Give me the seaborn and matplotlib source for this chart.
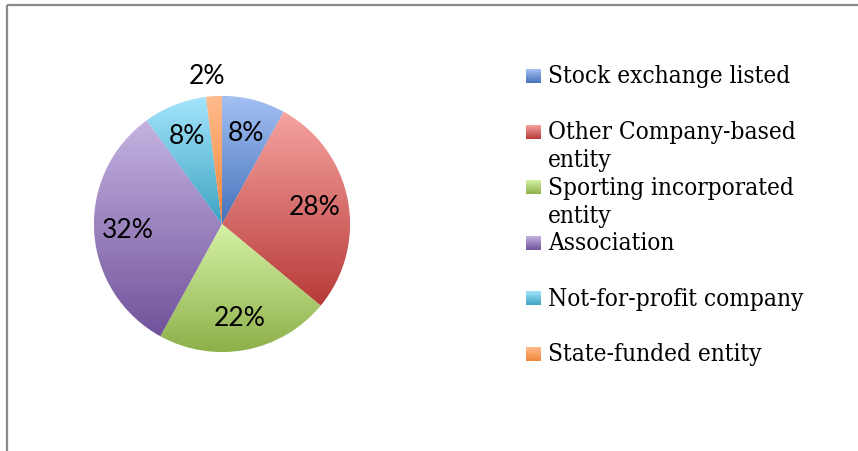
import numpy as np
import seaborn as sns
import matplotlib.pyplot as plt
from matplotlib.colors import LinearSegmentedColormap

sns.set_theme(style="white")

categories = ["Stock exchange listed", "Other Company-based\nentity",
              "Sporting incorporated\nentity", "Association",
              "Not-for-profit company", "State-funded entity"]
shares = [8, 28, 22, 32, 8, 2]

# light (top) / dark (bottom) colour of each slice gradient
light = ["#a3c0f3", "#f5a3a1", "#d6f2a6", "#c4b3e1", "#a3e4fb", "#ffbb8c"]
dark = ["#4672ba", "#b73a37", "#8eb04a", "#71529b", "#3fa4c3", "#f0863a"]

W, H = 858, 452
fig = plt.figure(figsize=(W / 100, H / 100), dpi=100)

# pie centred at (222, 225) px with radius 128 px
cx, cy, r = 222, 225, 128
ax = fig.add_axes([(cx - r) / W, (H - cy - r) / H, 2 * r / W, 2 * r / H])
wedges, texts, autotexts = ax.pie(
    shares, startangle=90, counterclock=False, colors=dark,
    autopct="%1.0f%%", pctdistance=0.74,
    wedgeprops=dict(edgecolor="white", linewidth=0.6),
    textprops=dict(fontsize=19, family="Lato", color="black"))

grad = np.linspace(0, 1, 256).reshape(-1, 1)
inv = ax.transData.inverted()
for w, lo, hi in zip(wedges, dark, light):
    bb = w.get_window_extent().transformed(inv)
    cmap = LinearSegmentedColormap.from_list("g", [lo, hi])
    im = ax.imshow(grad, extent=(bb.x0, bb.x1, bb.y0, bb.y1), origin="lower",
                   cmap=cmap, aspect="auto", zorder=w.get_zorder() + 0.1,
                   interpolation="bilinear")
    im.set_clip_path(w)

for t, v, w in zip(autotexts, shares, wedges):
    t.set_zorder(5)
    if v < 5:
        ang = np.deg2rad((w.theta1 + w.theta2) / 2)
        t.set_position((1.12 * np.cos(ang) - 0.05, 1.16 * np.sin(ang)))

ax.set_xlim(-1, 1)
ax.set_ylim(-1, 1)
ax.set_aspect("equal")
ax.axis("off")

# overlay in pixel coordinates for frame and legend
ov = fig.add_axes([0, 0, 1, 1], zorder=-1)
ov.set_xlim(0, W)
ov.set_ylim(H, 0)
ov.axis("off")
ov.plot([6.5, W + 5], [5.5, 5.5], color="#8a8a8a", lw=1.6, solid_capstyle="butt")
ov.plot([6.5, 6.5], [5.5, H + 5], color="#8a8a8a", lw=1.6, solid_capstyle="butt")

leg = fig.add_axes([0, 0, 1, 1])
leg.set_xlim(0, W)
leg.set_ylim(H, 0)
leg.axis("off")
for i, (lab, lo, hi) in enumerate(zip(categories, dark, light)):
    y = 77 + 55.6 * i
    cmap = LinearSegmentedColormap.from_list("g", [hi, lo])
    leg.imshow(grad, extent=(526, 541, y + 7, y - 7), cmap=cmap,
               aspect="auto", interpolation="bilinear")
    for j, line in enumerate(lab.split("\n")):
        leg.text(548, y + 28 * j, line, fontsize=17.5, family="DejaVu Serif",
                 fontstretch="condensed", va="center", ha="left", color="black")
leg.set_xlim(0, W)
leg.set_ylim(H, 0)

fig.savefig("out.png", dpi=100)
